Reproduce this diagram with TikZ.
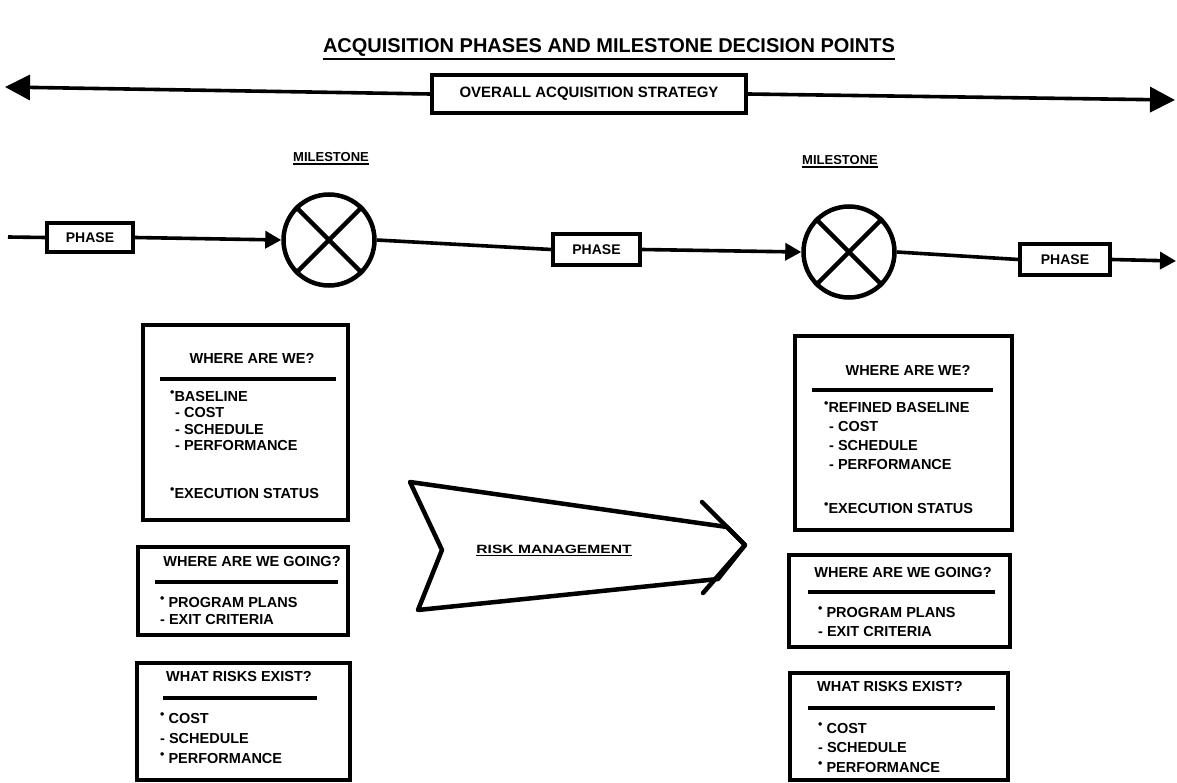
\documentclass[tikz,border=0pt]{standalone}
\usepackage{fontspec}
\setmainfont{Liberation Sans}
\usetikzlibrary{arrows.meta}
\newcommand{\bul}{\raisebox{0.38em}{\scalebox{0.85}{•}}}
\begin{document}
\begin{tikzpicture}[x=1pt,y=-1pt,
  heavy/.style={line width=3.6pt},
  infobox/.style={draw, line width=4pt, rectangle, inner sep=0pt},
  item/.style={font=\bfseries\fontsize{14.5}{16}\selectfont, inner sep=0pt, anchor=west},
  boxtitle/.style={font=\bfseries\fontsize{14.5}{16}\selectfont, inner sep=0pt},
  rulel/.style={line width=3.2pt},
  phasebox/.style={draw, line width=3.5pt, inner sep=0pt, font=\bfseries\fontsize{14}{16}\selectfont},
  tipS/.style={-{Triangle[length=16pt,width=17pt]}},
  tipL/.style={-{Triangle[length=25pt,width=25pt]}},
  milestone/.style={draw, circle, line width=4.5pt, minimum size=91pt, inner sep=0pt},
  mlab/.style={font=\bfseries\fontsize{13}{15}\selectfont, inner sep=0pt},
]
\useasboundingbox (0,0) rectangle (1177,783);

% title
\node[font=\bfseries\fontsize{20}{24}\selectfont, inner sep=0pt] (title) at (609,47) {ACQUISITION PHASES AND MILESTONE DECISION POINTS};
\draw[line width=2.5pt] ([yshift=-3pt]title.south west) -- ([yshift=-3pt]title.south east);

% overall strategy
\node[draw, line width=4pt, minimum width=314pt, minimum height=38pt, inner sep=0pt, font=\bfseries\fontsize{15}{17}\selectfont] (os) at (589,94) {OVERALL ACQUISITION STRATEGY};
\coordinate (ol) at (5,87);
\coordinate (or) at (1175,100);
\draw[heavy, tipL] (os.west) -- (ol);
\draw[heavy, tipL] (os.east) -- (or);

% milestone labels
\node[mlab] (ml1) at (331,157) {MILESTONE};
\draw[line width=1.6pt] ([yshift=-2.5pt]ml1.south west) -- ([yshift=-2.5pt]ml1.south east);
\node[mlab] (ml2) at (840,160) {MILESTONE};
\draw[line width=1.6pt] ([yshift=-2.5pt]ml2.south west) -- ([yshift=-2.5pt]ml2.south east);

% phase row
\coordinate (p0) at (8,237);
\node[phasebox, minimum width=86pt, minimum height=29pt] (ph1) at (90,237.5) {PHASE};
\node[milestone] (m1) at (329,240) {};
\node[phasebox, minimum width=87pt, minimum height=31pt] (ph2) at (596.5,249.5) {PHASE};
\node[milestone] (m2) at (849,252) {};
\node[phasebox, minimum width=90pt, minimum height=31pt] (ph3) at (1065,259.5) {PHASE};
\coordinate (pe) at (1176,261);

\draw[line width=4.5pt] (m1.45) -- (m1.225) (m1.135) -- (m1.-45);
\draw[line width=4.5pt] (m2.45) -- (m2.225) (m2.135) -- (m2.-45);

\draw[heavy] (p0) -- (ph1.west);
\draw[heavy, tipS] (ph1.east) -- (m1.west);
\draw[heavy] (m1.east) -- (ph2.west);
\draw[heavy, tipS] (ph2.east) -- (m2.west);
\draw[heavy] (m2.east) -- (ph3.west);
\draw[heavy, tipS] (ph3.east) -- (pe);

% left column
\node[infobox, minimum width=205pt, minimum height=195pt] (lb1) at (245.5,422.5) {};
\node[boxtitle] (lb1t) at (252,358) {WHERE ARE WE?};
\draw[rulel] (160,379) -- (336,379);
\node[item] (lb1a) at (170,396) {\bul BASELINE};
\node[item] (lb1b) at (175,413) {- COST};
\node[item] (lb1c) at (175,430) {- SCHEDULE};
\node[item] (lb1d) at (175,446) {- PERFORMANCE};
\node[item] (lb1e) at (170,493) {\bul EXECUTION STATUS};

\node[infobox, minimum width=210pt, minimum height=88pt] (lb2) at (243,591) {};
\node[boxtitle] (lb2t) at (252,562) {WHERE ARE WE GOING?};
\draw[rulel] (155,582) -- (338,582);
\node[item] (lb2a) at (160,602) {\bul\ PROGRAM PLANS};
\node[item] (lb2b) at (160,620) {- EXIT CRITERIA};

\node[infobox, minimum width=213pt, minimum height=117pt] (lb3) at (243.5,721.5) {};
\node[boxtitle] (lb3t) at (239,677) {WHAT RISKS EXIST?};
\draw[rulel] (163,698) -- (317,698);
\node[item] (lb3a) at (160,718) {\bul\ COST};
\node[item] (lb3b) at (160,739) {- SCHEDULE};
\node[item] (lb3c) at (160,758) {\bul\ PERFORMANCE};

% right column
\node[infobox, minimum width=217pt, minimum height=194pt] (rb1) at (903.5,433) {};
\node[boxtitle] (rb1t) at (908,370) {WHERE ARE WE?};
\draw[rulel] (812,390) -- (993,390);
\node[item] (rb1a) at (824,407) {\bul REFINED BASELINE};
\node[item] (rb1b) at (829,427) {- COST};
\node[item] (rb1c) at (829,446) {- SCHEDULE};
\node[item] (rb1d) at (829,465) {- PERFORMANCE};
\node[item] (rb1e) at (824,508) {\bul EXECUTION STATUS};

\node[infobox, minimum width=221pt, minimum height=92pt] (rb2) at (899.5,601) {};
\node[boxtitle] (rb2t) at (903,573) {WHERE ARE WE GOING?};
\draw[rulel] (808,592) -- (995,592);
\node[item] (rb2a) at (818,612) {\bul\ PROGRAM PLANS};
\node[item] (rb2b) at (818,632) {- EXIT CRITERIA};

\node[infobox, minimum width=218pt, minimum height=107pt] (rb3) at (899,726.5) {};
\node[boxtitle] (rb3t) at (890,687) {WHAT RISKS EXIST?};
\draw[rulel] (808,708) -- (995,708);
\node[item] (rb3a) at (818,728) {\bul\ COST};
\node[item] (rb3b) at (818,748) {- SCHEDULE};
\node[item] (rb3c) at (818,767) {\bul\ PERFORMANCE};

% risk management arrow
\draw[line width=4.5pt, line join=round] (410,482) -- (727,527) -- (745,545) -- (718,579) -- (418,610) -- (442,550) -- cycle;
\draw[line width=4.5pt, line join=round, line cap=round] (702,502) -- (745,545) -- (703,593);
\node[inner sep=0pt, font=\bfseries\fontsize{12}{14}\selectfont, xscale=1.3] (rm) at (554,549) {RISK MANAGEMENT};
\draw[line width=1.2pt] ([yshift=-2pt]rm.south west) -- ([yshift=-2pt]rm.south east);
\end{tikzpicture}
\end{document}
